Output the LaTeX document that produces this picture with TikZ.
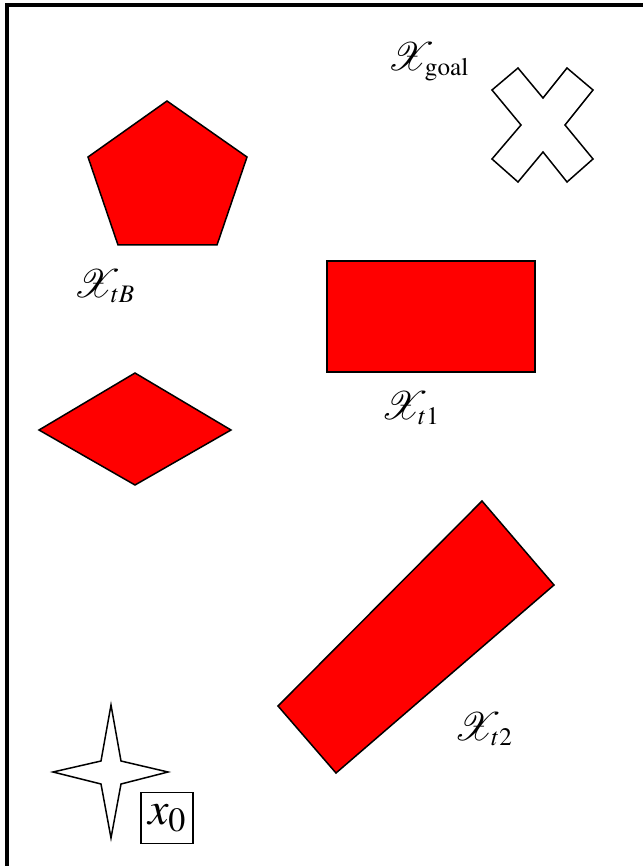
\documentclass[tikz,border=0pt]{standalone}
\usepackage{mathptmx}
\usepackage{mathrsfs}
\newcommand{\scrX}{\mathord{\scalebox{1.6}{$\mathscr{X}$}\kern-0.3em}}
\begin{document}
\begin{tikzpicture}[x=1pt,y=-1pt,line join=miter]
		\tikzset{obstacle/.style={draw,fill=red,line width=1.5pt},
			goalmark/.style={draw,fill=white,line width=1.5pt},
			setlabel/.style={inner sep=0pt,font=\fontsize{34}{40}\selectfont}
		}
		\useasboundingbox (0,0) rectangle (642,866);
		\draw[line width=4.5pt] (7,5) rectangle (700,920);
		% obstacles
		\draw[obstacle] (167,101)--(247,157)--(217,245)--(118,245)--(88,157)--cycle;
		\draw[obstacle] (327,261) rectangle (535,372);
		\draw[obstacle] (39,430)--(135,373)--(231,430)--(135,485)--cycle;
		\draw[obstacle] (278,706)--(482,501)--(554,585)--(336,773)--cycle;
		% goal and start
		\draw[goalmark] (518,68)--(543,98)--(567,68)--(593,90)--(565,125)--(593,159)--(567,182)
			--(543,152)--(518,182)--(492,159)--(521,125)--(492,90)--cycle;
		\draw[goalmark] (111,705)--(121,761)--(168,772)--(121,784)--(111,838)--(101,784)
			--(53,772)--(101,761)--cycle;
		\node[setlabel] (goal) at (428,62) {$\scrX_{\mathrm{goal}}$};
		\node[setlabel] (tB) at (104,286) {$\scrX_{tB}$};
		\node[setlabel] (t1) at (410,408) {$\scrX_{t1}$};
		\node[setlabel] (t2) at (483,729) {$\scrX_{t2}$};
		\node[draw,line width=1.2pt,inner sep=0pt,minimum width=52,minimum height=51,
			font=\fontsize{46}{50}\selectfont] (start) at (167,818) {$x_0$};
	\end{tikzpicture}
\end{document}
